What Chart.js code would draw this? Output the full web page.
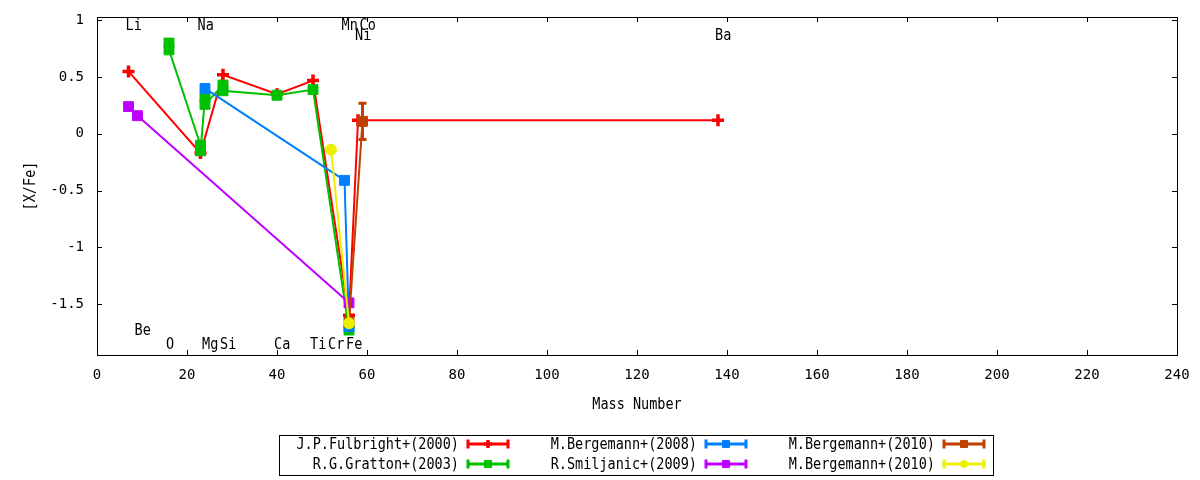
<!DOCTYPE html>
<html>
<head>
<meta charset="utf-8">
<script src="https://cdn.jsdelivr.net/npm/chart.js@4.4.1/dist/chart.umd.min.js"></script>
<style>
html,body{margin:0;padding:0;background:#fff;}
#wrap{position:relative;width:1200px;height:480px;}
</style>
</head>
<body>
<div id="wrap"><canvas id="c" width="1200" height="480"></canvas></div>
<script>
// ---- data ----
const seriesNames = ["J.P.Fulbright+(2000)","R.G.Gratton+(2003)","M.Bergemann+(2008)","R.Smiljanic+(2009)","M.Bergemann+(2010)","M.Bergemann+(2010)"];
const fulbrightX = [7, 23, 28, 40, 48, 56, 58, 138];
const fulbrightY = [0.55, -0.17, 0.52, 0.35, 0.47, -1.60, 0.12, 0.12];
const grattonX = [16, 16, 23, 23, 24, 24, 28, 28, 40, 48, 56];
const grattonY = [0.80, 0.74, -0.10, -0.15, 0.32, 0.26, 0.43, 0.38, 0.34, 0.39, -1.73];
const berg2008X = [24, 55, 56];
const berg2008Y = [0.40, -0.41, -1.70];
const smiljanicX = [7, 9, 56];
const smiljanicY = [0.24, 0.16, -1.49];
const berg2010aX = [56, 59];
const berg2010aY = [-1.66, 0.11];
const berg2010aErr = [0, 0.16];
const berg2010bX = [52, 56];
const berg2010bY = [-0.14, -1.67];
const xTicks = [0,20,40,60,80,100,120,140,160,180,200,220,240];
const yTicks = [-1.5,-1,-0.5,0,0.5,1];
const elemNames = ["Li","Na","Mn","Co","Ni","Ba","Be","O","Mg","Si","Ca","Ti","Cr","Fe"];
const elemMass  = [7, 23, 55, 59, 58, 138, 9, 16, 24, 28, 40, 48, 52, 56];
const elemLabelY = [0.955, 0.955, 0.955, 0.955, 0.866, 0.866, -1.73, -1.85, -1.85, -1.85, -1.85, -1.85, -1.85, -1.85];

// ---- styles ----
const FONT = '"DejaVu Sans Mono", "Liberation Mono", monospace';
const colors = ['#ff0000','#00c000','#0080ff','#c000ff','#c04000','#eeee00'];
const pStyles = ['cross','rect','rect','rect','rect','circle'];
const pRadius = [6,7,7,7,7,5.5];
const pBorder = [3.5,1,1,1,1,1];

const xs = [fulbrightX, grattonX, berg2008X, smiljanicX, berg2010aX, berg2010bX];
const ys = [fulbrightY, grattonY, berg2008Y, smiljanicY, berg2010aY, berg2010bY];

const datasets = xs.map((xa, i) => ({
  label: seriesNames[i],
  data: xa.map((x, j) => ({x: x, y: ys[i][j]})),
  borderColor: colors[i],
  backgroundColor: colors[i],
  pointBackgroundColor: colors[i],
  pointBorderColor: colors[i],
  borderWidth: 2,
  pointStyle: pStyles[i],
  pointRadius: pRadius[i],
  pointBorderWidth: pBorder[i],
  showLine: true,
  tension: 0,
  fill: false,
  order: xs.length - 1 - i
}));

function monoText(ctx, text, x, y, align) {
  // slightly condensed tall mono text, like the reference
  ctx.save();
  ctx.translate(x, y);
  ctx.scale(0.9, 1);
  ctx.textAlign = align;
  ctx.fillText(text, 0, 0);
  ctx.restore();
}

const framePlugin = {
  id: 'frame',
  afterDatasetsDraw(chart) {
    const ctx = chart.ctx, a = chart.chartArea;
    const sx = chart.scales.x, sy = chart.scales.y;
    ctx.save();
    // error bars for Bergemann 2010 (brown)
    const dsi = 4;
    ctx.strokeStyle = colors[dsi];
    ctx.lineWidth = 3;
    berg2010aX.forEach((x, j) => {
      const e = berg2010aErr[j];
      if (!e) return;
      const px = sx.getPixelForValue(x);
      const p1 = sy.getPixelForValue(berg2010aY[j] + e);
      const p2 = sy.getPixelForValue(berg2010aY[j] - e);
      ctx.beginPath();
      ctx.moveTo(px, p1); ctx.lineTo(px, p2);
      ctx.moveTo(px - 4, p1); ctx.lineTo(px + 4, p1);
      ctx.moveTo(px - 4, p2); ctx.lineTo(px + 4, p2);
      ctx.stroke();
    });
    // border
    ctx.strokeStyle = '#000';
    ctx.lineWidth = 1;
    ctx.strokeRect(Math.round(a.left) + 0.5, Math.round(a.top) + 0.5, Math.round(a.right - a.left), Math.round(a.bottom - a.top));
    // inward ticks
    const TL = 5;
    ctx.beginPath();
    sx.ticks.forEach(t => {
      const px = Math.round(sx.getPixelForValue(t.value)) + 0.5;
      ctx.moveTo(px, a.bottom); ctx.lineTo(px, a.bottom - TL);
      ctx.moveTo(px, a.top); ctx.lineTo(px, a.top + TL);
    });
    sy.ticks.forEach(t => {
      const py = Math.round(sy.getPixelForValue(t.value)) + 0.5;
      ctx.moveTo(a.left, py); ctx.lineTo(a.left + TL, py);
      ctx.moveTo(a.right, py); ctx.lineTo(a.right - TL, py);
    });
    ctx.stroke();
    // element labels
    ctx.fillStyle = '#000';
    ctx.font = '15px ' + FONT;
    ctx.textBaseline = 'middle';
    elemNames.forEach((n, i) => {
      monoText(ctx, n, sx.getPixelForValue(elemMass[i]) - 3, sy.getPixelForValue(elemLabelY[i]) + 1, 'left');
    });
    // axis titles
    monoText(ctx, 'Mass Number', (a.left + a.right) / 2, 405, 'center');
    ctx.save();
    ctx.translate(31, 186);
    ctx.rotate(-Math.PI / 2);
    monoText(ctx, '[X/Fe]', 0, 0, 'center');
    ctx.restore();
    // legend
    ctx.lineWidth = 1;
    ctx.strokeStyle = '#000';
    ctx.strokeRect(279.5, 435.5, 714, 40);
    const colText = [459, 697, 935];
    const rowY = [444, 464];
    const legendOrder = [[0,0],[1,0],[0,1],[1,1],[0,2],[1,2]];
    legendOrder.forEach(([r, c], i) => {
      const y = rowY[r];
      ctx.fillStyle = '#000';
      monoText(ctx, seriesNames[i], colText[c], y + 1, 'right');
      const x1 = colText[c] + 8, x2 = colText[c] + 50;
      ctx.strokeStyle = colors[i];
      ctx.lineWidth = 3;
      ctx.beginPath();
      ctx.moveTo(x1, y); ctx.lineTo(x2, y);
      ctx.moveTo(x1 + 1, y - 4.5); ctx.lineTo(x1 + 1, y + 4.5);
      ctx.moveTo(x2 - 1, y - 4.5); ctx.lineTo(x2 - 1, y + 4.5);
      ctx.stroke();
      ctx.fillStyle = colors[i];
      ctx.lineWidth = pBorder[i];
      if (Chart.helpers && Chart.helpers.drawPoint) {
        Chart.helpers.drawPoint(ctx, {pointStyle: pStyles[i], radius: pRadius[i] - 2, borderWidth: pBorder[i], rotation: 0}, (x1 + x2) / 2, y);
      }
    });
    ctx.restore();
  }
};

new Chart(document.getElementById('c'), {
  type: 'line',
  data: { datasets: datasets },
  options: {
    responsive: false,
    animation: false,
    devicePixelRatio: 1,
    layout: { padding: { left: 0, right: 23, top: 17, bottom: 0 } },
    plugins: { legend: { display: false }, tooltip: { enabled: false } },
    scales: {
      x: {
        type: 'linear', min: 0, max: 240,
        afterFit(s) { s.height = 125; s.paddingLeft = 0; s.paddingRight = 0; },
        afterBuildTicks(s) { s.ticks = xTicks.map(v => ({value: v})); },
        grid: { display: false, drawTicks: false },
        border: { display: false },
        ticks: { autoSkip: false, maxRotation: 0, padding: 12, color: '#000', font: { family: FONT, size: 14 }, callback: v => String(v) }
      },
      y: {
        type: 'linear', min: -1.95, max: 1.03,
        afterFit(s) { s.width = 97; s.paddingTop = 0; s.paddingBottom = 0; },
        afterBuildTicks(s) { s.ticks = yTicks.map(v => ({value: v})); },
        grid: { display: false, drawTicks: false },
        border: { display: false },
        ticks: { autoSkip: false, padding: 13, color: '#000', font: { family: FONT, size: 14 }, callback: v => String(v) }
      }
    }
  },
  plugins: [framePlugin]
});
</script>
</body>
</html>
